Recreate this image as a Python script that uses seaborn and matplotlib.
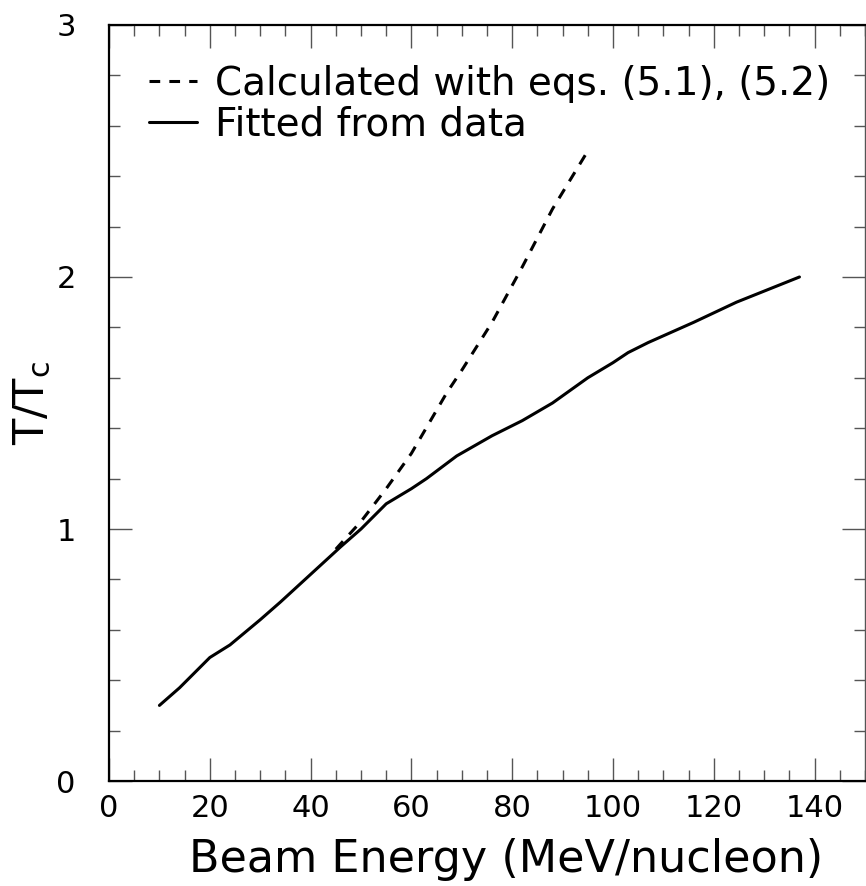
import numpy as np
import pandas as pd
import seaborn as sns
from matplotlib import pyplot as plt
from matplotlib.ticker import MultipleLocator

# Fitted from data (solid)
fit_x = [10, 14, 20, 24, 30, 34, 40, 46, 50, 55, 60, 63, 69, 76, 82, 88, 95, 100, 103, 107, 116, 124.5, 137]
fit_y = [0.30, 0.37, 0.49, 0.54, 0.64, 0.71, 0.82, 0.93, 1.00, 1.10, 1.16, 1.20, 1.29, 1.37, 1.43, 1.50, 1.60, 1.66, 1.70, 1.74, 1.82, 1.90, 2.00]

# Calculated with eqs. (5.1), (5.2) (dashed)
calc_x = [45, 50, 55, 60, 67, 70, 76, 82, 88, 95]
calc_y = [0.92, 1.03, 1.16, 1.30, 1.54, 1.63, 1.82, 2.04, 2.27, 2.50]

labels = ["Calculated with eqs. (5.1), (5.2)", "Fitted from data"]


def main():
    sns.set_style("ticks")
    plt.rcParams["font.family"] = ["DejaVu Sans"]
    plt.rcParams["mathtext.default"] = "regular"
    plt.rcParams["text.color"] = "black"
    plt.rcParams["axes.labelcolor"] = "black"

    fig = plt.figure(figsize=(8.66, 8.86), dpi=100)
    ax = fig.add_axes([0.1259, 0.1185, 0.8729, 0.8533])

    df_calc = pd.DataFrame({"x": calc_x, "y": calc_y})
    df_fit = pd.DataFrame({"x": fit_x, "y": fit_y})
    sns.lineplot(data=df_calc, x="x", y="y", ax=ax, color="black", lw=2.2,
                 dashes=False, label=labels[0], sort=False)
    sns.lineplot(data=df_fit, x="x", y="y", ax=ax, color="black", lw=2.2,
                 label=labels[1], sort=False)
    ax.lines[0].set_dashes((3.5, 3))

    ax.set_xlim(0, 150)
    ax.set_ylim(0, 3)
    ax.xaxis.set_major_locator(MultipleLocator(20))
    ax.xaxis.set_minor_locator(MultipleLocator(5))
    ax.yaxis.set_major_locator(MultipleLocator(1))
    ax.yaxis.set_minor_locator(MultipleLocator(0.2))

    ax.tick_params(which="both", direction="in", top=True, right=True,
                   color="#555555", width=1.0, labelcolor="black")
    ax.tick_params(which="major", length=16.5)
    ax.tick_params(which="minor", length=8)
    ax.tick_params(axis="x", which="major", labelsize=22, pad=9)
    ax.tick_params(axis="y", which="major", labelsize=22, pad=24)

    for side in ["left", "bottom", "top"]:
        ax.spines[side].set_linewidth(1.6)
        ax.spines[side].set_color("black")
    ax.spines["right"].set_linewidth(1.0)
    ax.spines["right"].set_color("#555555")

    ax.set_xlabel("Beam Energy (MeV/nucleon)", fontsize=32)
    ax.xaxis.set_label_coords(0.525, -0.075)
    ax.set_ylabel("T/T$_{c}$", fontsize=31, labelpad=2)

    leg = ax.legend(loc="upper left", bbox_to_anchor=(0.032, 0.968), frameon=False,
                    fontsize=28, handlelength=1.25, handletextpad=0.45,
                    labelspacing=0.08, borderaxespad=0)
    for t in leg.get_texts():
        t.set_color("black")

    fig.savefig("out.png", dpi=100)


if __name__ == '__main__':
    main()
